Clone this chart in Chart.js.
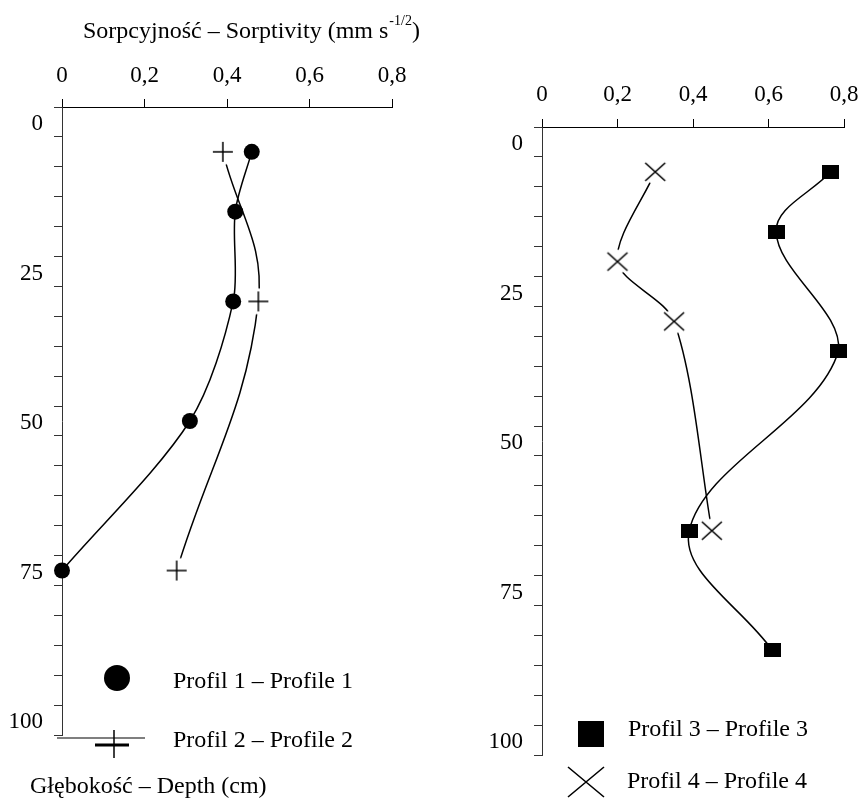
<!DOCTYPE html>
<html><head><meta charset="utf-8">
<script src="https://cdn.jsdelivr.net/npm/chart.js@4.4.1/dist/chart.umd.min.js"></script>
<style>
html,body{margin:0;padding:0;background:#fff;}
#wrap{position:relative;width:862px;height:800px;background:#fff;}
.c{position:absolute;top:0;width:431px;height:800px;}
</style></head><body>
<div id="wrap">
<div class="c" style="left:0"><canvas id="left" width="431" height="800"></canvas></div>
<div class="c" style="left:431px"><canvas id="right" width="431" height="800"></canvas></div>
</div>
<script>
// ---- data ----
const depthTickLabels = [0, 25, 50, 75, 100];
const sorptivityTicks = [0, 0.2, 0.4, 0.6, 0.8];
const profile1Depth = [5, 15, 30, 50, 75];
const profile1Sorptivity = [0.46, 0.42, 0.415, 0.31, 0];
const profile2Depth = [5, 30, 75];
const profile2Sorptivity = [0.39, 0.476, 0.278];
const profile3Depth = [5, 15, 35, 65, 85];
const profile3Sorptivity = [0.765, 0.62, 0.785, 0.39, 0.61];
const profile4Depth = [5, 20, 30, 65];
const profile4Sorptivity = [0.30, 0.20, 0.35, 0.45];
const seriesNames = ['Profil 1 – Profile 1', 'Profil 2 – Profile 2', 'Profil 3 – Profile 3', 'Profil 4 – Profile 4'];
const xTitleMain = 'Sorpcyjność – Sorptivity (mm s';
const xTitleSup = '-1/2';
const yTitle = 'Głębokość – Depth (cm)';

const serif = '"Liberation Serif", "Times New Roman", serif';
const pts = (xs, ys) => xs.map((x, i) => ({x: x, y: ys[i]}));

function makeMarker(w, h, fn) {
  const c = document.createElement('canvas');
  c.width = w; c.height = h;
  fn(c.getContext('2d'), w / 2, h / 2);
  return c;
}
const plusMarker = makeMarker(28, 28, (g, cx, cy) => {
  g.fillStyle = '#fff'; g.beginPath(); g.arc(cx, cy, 13, 0, Math.PI * 2); g.fill();
  g.strokeStyle = '#000'; g.lineWidth = 1.5; g.beginPath();
  g.moveTo(cx - 10, cy); g.lineTo(cx + 10, cy); g.moveTo(cx, cy - 10); g.lineTo(cx, cy + 10); g.stroke();
});
const crossMarker = makeMarker(28, 28, (g, cx, cy) => {
  g.fillStyle = '#fff'; g.beginPath(); g.arc(cx, cy, 12, 0, Math.PI * 2); g.fill();
  g.strokeStyle = '#000'; g.lineWidth = 1.6; g.beginPath();
  g.moveTo(cx - 10, cy - 9); g.lineTo(cx + 10, cy + 9); g.moveTo(cx + 10, cy - 9); g.lineTo(cx - 10, cy + 9); g.stroke();
});
const squareMarker = makeMarker(17, 14, (g) => { g.fillStyle = '#000'; g.fillRect(0, 0, 17, 14); });

function fmtX(v) { return v === 0 ? '0' : v.toFixed(1).replace('.', ','); }

function makeScales(xHeight, yWidth, xPad) {
  return {
    x: {
      type: 'linear', position: 'top', min: 0, max: 0.8,
      afterBuildTicks: s => { s.ticks = sorptivityTicks.map(v => ({value: v})); },
      afterFit: s => { s.height = xHeight; s.paddingLeft = 0; s.paddingRight = 0; },
      ticks: { callback: v => fmtX(v), color: '#000', padding: xPad, font: {family: serif, size: 23}, maxRotation: 0 },
      grid: { drawOnChartArea: false, drawTicks: true, tickLength: 8, tickColor: '#000', tickWidth: 1 },
      border: { display: true, color: '#000', width: 1 }
    },
    y: {
      type: 'linear', position: 'left', min: -2.5, max: 102.5, reverse: true,
      afterBuildTicks: s => { const t = []; for (let v = -2.5; v <= 102.5; v += 2.5) t.push({value: v}); s.ticks = t; },
      afterFit: s => { s.width = yWidth; },
      ticks: { autoSkip: false, callback: v => depthTickLabels.includes(v) ? String(v) : '', color: '#000', padding: 11, labelOffset: 2, font: {family: serif, size: 23} },
      grid: { drawOnChartArea: false, drawTicks: true, tickLength: 8, tickWidth: 1,
        tickColor: c => (c.tick && Math.abs(c.tick.value % 5) === 2.5) ? '#333' : 'rgba(0,0,0,0)' },
      border: { display: true, color: '#333', width: 1 }
    }
  };
}

function txt(ctx, s, x, y, size) {
  ctx.font = size + 'px ' + serif; ctx.textAlign = 'left'; ctx.textBaseline = 'alphabetic';
  ctx.fillStyle = '#000'; ctx.fillText(s, x, y); return ctx.measureText(s).width;
}

const leftDecor = {
  id: 'leftDecor',
  afterDraw(chart) {
    const ctx = chart.ctx; ctx.save();
    let x = 83;
    x += txt(ctx, xTitleMain, x, 38, 24);
    x += txt(ctx, xTitleSup, x + 1, 25, 14) + 1;
    txt(ctx, ')', x, 38, 24);
    txt(ctx, yTitle, 30, 793, 24);
    // legend 1
    ctx.fillStyle = '#000'; ctx.beginPath(); ctx.arc(117, 678, 13, 0, Math.PI * 2); ctx.fill();
    txt(ctx, seriesNames[0], 173, 688, 24);
    // legend 2
    ctx.strokeStyle = '#000';
    ctx.lineWidth = 1.2; ctx.beginPath(); ctx.moveTo(57, 738); ctx.lineTo(145, 738); ctx.stroke();
    ctx.lineWidth = 1.5; ctx.beginPath(); ctx.moveTo(114, 730); ctx.lineTo(114, 758); ctx.stroke();
    ctx.lineWidth = 3; ctx.beginPath(); ctx.moveTo(95, 745); ctx.lineTo(129, 745); ctx.stroke();
    txt(ctx, seriesNames[1], 173, 747, 24);
    ctx.restore();
  }
};
const rightDecor = {
  id: 'rightDecor',
  afterDraw(chart) {
    const ctx = chart.ctx; ctx.save();
    ctx.fillStyle = '#000'; ctx.fillRect(147, 721, 26, 26);
    txt(ctx, seriesNames[2], 197, 736, 24);
    ctx.strokeStyle = '#000'; ctx.lineWidth = 1.6; ctx.beginPath();
    ctx.moveTo(137, 767); ctx.lineTo(173, 797); ctx.moveTo(173, 767); ctx.lineTo(137, 797); ctx.stroke();
    txt(ctx, seriesNames[3], 196, 788, 24);
    ctx.restore();
  }
};

const common = {
  responsive: false, animation: false, devicePixelRatio: 1,
  plugins: { legend: { display: false }, tooltip: { enabled: false } },
  events: []
};

new Chart(document.getElementById('left'), {
  type: 'line',
  data: { datasets: [
    { label: seriesNames[0], data: pts(profile1Sorptivity, profile1Depth), borderColor: '#000', borderWidth: 1.5,
      tension: 0.3, pointStyle: 'circle', pointRadius: 8, pointBackgroundColor: '#000', pointBorderColor: '#000', pointBorderWidth: 0, clip: false, fill: false },
    { label: seriesNames[1], data: pts(profile2Sorptivity, profile2Depth), borderColor: '#000', borderWidth: 1.5,
      tension: 0.4, pointStyle: plusMarker, pointRadius: 8, clip: false, fill: false }
  ]},
  options: Object.assign({}, common, { layout: { padding: { top: 0, left: 0, right: 39, bottom: 65 } }, scales: makeScales(107, 62, 9) }),
  plugins: [leftDecor]
});

new Chart(document.getElementById('right'), {
  type: 'line',
  data: { datasets: [
    { label: seriesNames[2], data: pts(profile3Sorptivity, profile3Depth), borderColor: '#000', borderWidth: 1.5,
      tension: 0.36, pointStyle: squareMarker, pointRadius: 8, clip: false, fill: false },
    { label: seriesNames[3], data: pts(profile4Sorptivity, profile4Depth), borderColor: '#000', borderWidth: 1.5,
      tension: 0.3, pointStyle: crossMarker, pointRadius: 8, clip: false, fill: false }
  ]},
  options: Object.assign({}, common, { layout: { padding: { top: 0, left: 0, right: 18, bottom: 45 } }, scales: makeScales(127, 111, 10) }),
  plugins: [rightDecor]
});
</script>
</body></html>
